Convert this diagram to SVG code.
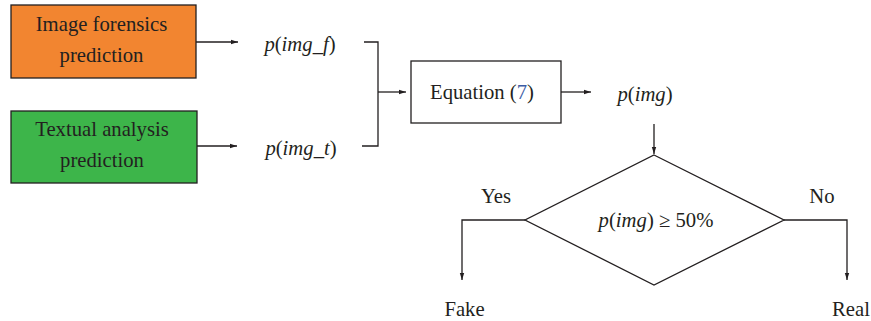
<svg xmlns="http://www.w3.org/2000/svg" width="871" height="321" viewBox="0 0 871 321" font-family="'Liberation Serif', 'DejaVu Serif', 'Times New Roman', Times, serif">
<style>
text{font-size:20.7px;fill:#231F20}
.c{text-anchor:middle}
.i{font-style:italic}
.ln{fill:none;stroke:#231F20;stroke-width:1.3}
.box{stroke:#231F20;stroke-width:1.3}
</style>
<defs>
<marker id="ah" markerWidth="8" markerHeight="6" refX="7" refY="3" orient="auto" markerUnits="userSpaceOnUse">
<path d="M0,0.8 L7,3 L0,5.2 Z" fill="#231F20"/>
</marker>
</defs>
<g id="forensics">
<rect class="box" x="11" y="5" width="185" height="73" fill="#F28530"/>
<text class="c" x="101.5" y="31">Image forensics</text>
<text class="c" x="101.5" y="62">prediction</text>
</g>
<g id="textual">
<rect class="box" x="11" y="111" width="186" height="72" fill="#3DB54A"/>
<text class="c" x="102" y="136">Textual analysis</text>
<text class="c" x="102" y="167">prediction</text>
</g>
<g id="pf">
<text class="c" x="300" y="51"><tspan class="i">p</tspan>(<tspan class="i">img_f</tspan>)</text>
</g>
<g id="pt">
<text class="c" x="301" y="155"><tspan class="i">p</tspan>(<tspan class="i">img_t</tspan>)</text>
</g>
<g id="equation">
<rect class="box" x="411" y="61" width="150" height="62" fill="#FFFFFF"/>
<text class="c" x="482" y="99">Equation (<tspan fill="#3B5BA5">7</tspan>)</text>
</g>
<g id="pimg">
<text class="c" x="645" y="101"><tspan class="i">p</tspan>(<tspan class="i">img</tspan>)</text>
</g>
<g id="decision">
<polygon class="box" points="654,155 784,220 654,285 525,220" fill="#FFFFFF"/>
<text class="c" x="656" y="227"><tspan class="i">p</tspan>(<tspan class="i">img</tspan>) ≥ 50%</text>
</g>
<g id="fake">
<text class="c" x="464.5" y="316">Fake</text>
</g>
<g id="real">
<text class="c" x="851" y="316">Real</text>
</g>
<g id="connectors">
<line class="ln" x1="196" y1="42" x2="238" y2="42" marker-end="url(#ah)"/>
<line class="ln" x1="197" y1="146" x2="237" y2="146" marker-end="url(#ah)"/>
<polyline class="ln" points="364,42 378,42 378,146 362,146"/>
<line class="ln" x1="378" y1="92" x2="406" y2="92" marker-end="url(#ah)"/>
<line class="ln" x1="561" y1="92" x2="591" y2="92" marker-end="url(#ah)"/>
<line class="ln" x1="654" y1="124" x2="654" y2="154" marker-end="url(#ah)"/>
<polyline class="ln" points="525,220 462,220 462,280" marker-end="url(#ah)"/>
<polyline class="ln" points="784,220 847,220 847,280" marker-end="url(#ah)"/>
<text class="c" x="496" y="203">Yes</text>
<text class="c" x="822" y="203">No</text>
</g>
</svg>
